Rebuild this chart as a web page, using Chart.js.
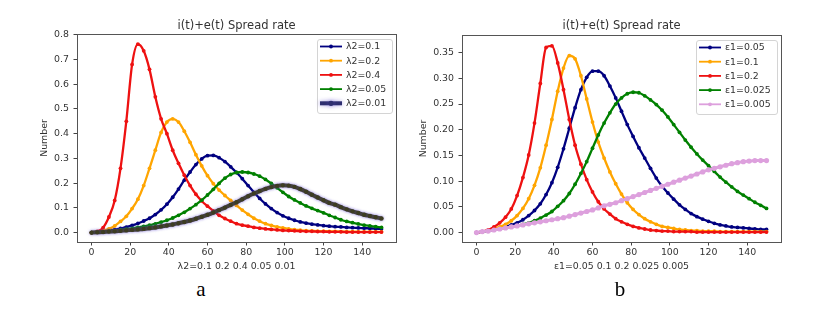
<!DOCTYPE html>
<html>
<head>
<meta charset="utf-8">
<title>i(t)+e(t) Spread rate</title>
<script src="https://cdn.jsdelivr.net/npm/chart.js@4.4.1/dist/chart.umd.min.js"></script>
<style>
  body { margin: 0; background: #fff; }
  #page { position: relative; width: 838px; height: 312px; overflow: hidden; font-family: "DejaVu Sans", sans-serif; color: #333; }
  canvas { position: absolute; top: 0; }
  #chart-a { left: 0; }
  #chart-b { left: 400px; }
  .plot-title { position: absolute; top: 18px; width: 319px; text-align: center; font-size: 11.5px; line-height: 14px; }
  .caption { position: absolute; top: 279px; width: 40px; text-align: center; font: 21px/21px "Liberation Serif", serif; color: #000; }
</style>
</head>
<body>
<div id="page">
  <canvas id="chart-a" width="419" height="276"></canvas>
  <canvas id="chart-b" width="400" height="276"></canvas>
  <div class="plot-title" style="left:77px">i(t)+e(t) Spread rate</div>
  <div class="plot-title" style="left:462px">i(t)+e(t) Spread rate</div>
  <div class="caption" style="left:181px">a</div>
  <div class="caption" style="left:600px">b</div>
</div>
<script>
// time steps (read every 3 units)
const tValues = [0, 3, 6, 9, 12, 15, 18, 21, 24, 27, 30, 33, 36, 39, 42, 45, 48, 51, 54, 57, 60, 63, 66, 69, 72, 75, 78, 81, 84, 87, 90, 93, 96, 99, 102, 105, 108, 111, 114, 117, 120, 123, 126, 129, 132, 135, 138, 141, 144, 147, 150];

const xTicks = [0, 20, 40, 60, 80, 100, 120, 140];
const yTicksA = [0, 0.1, 0.2, 0.3, 0.4, 0.5, 0.6, 0.7, 0.8];
const yTicksB = [0, 0.05, 0.1, 0.15, 0.2, 0.25, 0.3, 0.35];

// chart a : lambda2
const labelsA = ["λ2=0.1", "λ2=0.2", "λ2=0.4", "λ2=0.05", "λ2=0.01"];
const lam01 = [0.0, 0.002, 0.005, 0.008, 0.012, 0.017, 0.022, 0.029, 0.037, 0.047, 0.058, 0.073, 0.092, 0.115, 0.143, 0.176, 0.212, 0.245, 0.275, 0.298, 0.311, 0.312, 0.303, 0.287, 0.266, 0.243, 0.218, 0.19, 0.163, 0.138, 0.116, 0.097, 0.081, 0.068, 0.058, 0.05, 0.043, 0.038, 0.034, 0.031, 0.028, 0.026, 0.024, 0.023, 0.021, 0.02, 0.019, 0.018, 0.017, 0.016, 0.015];
const lam02 = [0.0, 0.003, 0.008, 0.015, 0.027, 0.045, 0.066, 0.097, 0.135, 0.19, 0.26, 0.333, 0.405, 0.447, 0.46, 0.447, 0.41, 0.365, 0.315, 0.27, 0.23, 0.198, 0.172, 0.15, 0.13, 0.11, 0.091, 0.074, 0.058, 0.046, 0.036, 0.029, 0.023, 0.019, 0.015, 0.012, 0.01, 0.008, 0.007, 0.006, 0.006, 0.005, 0.005, 0.004, 0.004, 0.004, 0.003, 0.003, 0.003, 0.003, 0.003];
const lam04 = [0.0, 0.005, 0.02, 0.063, 0.13, 0.26, 0.45, 0.68, 0.762, 0.735, 0.66, 0.549, 0.46, 0.4, 0.333, 0.28, 0.232, 0.19, 0.155, 0.128, 0.107, 0.088, 0.07, 0.057, 0.046, 0.036, 0.03, 0.026, 0.021, 0.018, 0.015, 0.013, 0.011, 0.009, 0.008, 0.007, 0.006, 0.005, 0.005, 0.004, 0.004, 0.003, 0.003, 0.003, 0.002, 0.002, 0.002, 0.002, 0.002, 0.002, 0.002];
const lam005 = [0.0, 0.002, 0.004, 0.006, 0.008, 0.011, 0.014, 0.017, 0.021, 0.025, 0.03, 0.035, 0.042, 0.05, 0.059, 0.07, 0.082, 0.097, 0.113, 0.131, 0.152, 0.175, 0.199, 0.22, 0.235, 0.243, 0.245, 0.243, 0.237, 0.228, 0.215, 0.199, 0.181, 0.163, 0.146, 0.132, 0.12, 0.108, 0.098, 0.089, 0.08, 0.07, 0.061, 0.052, 0.045, 0.04, 0.035, 0.03, 0.027, 0.024, 0.021];
const lam001 = [0.0, 0.001, 0.002, 0.004, 0.005, 0.007, 0.009, 0.011, 0.013, 0.015, 0.018, 0.021, 0.025, 0.029, 0.033, 0.038, 0.043, 0.049, 0.056, 0.064, 0.072, 0.081, 0.091, 0.101, 0.112, 0.123, 0.135, 0.147, 0.158, 0.168, 0.177, 0.184, 0.189, 0.191, 0.19, 0.185, 0.176, 0.165, 0.153, 0.142, 0.131, 0.12, 0.113, 0.103, 0.094, 0.086, 0.079, 0.072, 0.067, 0.062, 0.057];

// chart b : epsilon1
const labelsB = ["ε1=0.05", "ε1=0.1", "ε1=0.2", "ε1=0.025", "ε1=0.005"];
const eps005 = [0.0, 0.002, 0.004, 0.006, 0.008, 0.011, 0.015, 0.019, 0.025, 0.033, 0.043, 0.056, 0.074, 0.097, 0.127, 0.163, 0.203, 0.243, 0.278, 0.302, 0.314, 0.314, 0.305, 0.285, 0.262, 0.236, 0.21, 0.187, 0.165, 0.145, 0.125, 0.106, 0.09, 0.077, 0.065, 0.054, 0.045, 0.037, 0.031, 0.026, 0.022, 0.018, 0.015, 0.013, 0.011, 0.01, 0.009, 0.008, 0.007, 0.006, 0.006];
const eps01 = [0.0, 0.002, 0.004, 0.007, 0.011, 0.016, 0.023, 0.033, 0.047, 0.066, 0.092, 0.126, 0.17, 0.22, 0.275, 0.32, 0.344, 0.338, 0.305, 0.26, 0.215, 0.176, 0.145, 0.118, 0.095, 0.075, 0.058, 0.045, 0.035, 0.027, 0.021, 0.016, 0.012, 0.01, 0.008, 0.006, 0.005, 0.004, 0.004, 0.003, 0.003, 0.003, 0.002, 0.002, 0.002, 0.002, 0.002, 0.002, 0.002, 0.002, 0.002];
const eps02 = [0.0, 0.002, 0.005, 0.011, 0.019, 0.03, 0.046, 0.072, 0.107, 0.151, 0.213, 0.29, 0.36, 0.363, 0.33, 0.278, 0.22, 0.17, 0.133, 0.103, 0.079, 0.06, 0.046, 0.036, 0.027, 0.021, 0.016, 0.012, 0.009, 0.007, 0.005, 0.004, 0.003, 0.003, 0.002, 0.002, 0.002, 0.002, 0.001, 0.001, 0.001, 0.001, 0.001, 0.001, 0.001, 0.001, 0.001, 0.001, 0.001, 0.001, 0.001];
const eps0025 = [0.0, 0.002, 0.003, 0.005, 0.007, 0.009, 0.011, 0.013, 0.016, 0.019, 0.023, 0.028, 0.034, 0.041, 0.051, 0.062, 0.076, 0.094, 0.115, 0.138, 0.164, 0.19, 0.213, 0.233, 0.25, 0.262, 0.27, 0.273, 0.272, 0.266, 0.258, 0.249, 0.238, 0.225, 0.21, 0.195, 0.18, 0.166, 0.153, 0.141, 0.13, 0.119, 0.108, 0.098, 0.089, 0.08, 0.073, 0.066, 0.059, 0.053, 0.047];
const eps0005 = [0.0, 0.002, 0.003, 0.005, 0.007, 0.009, 0.011, 0.013, 0.015, 0.017, 0.019, 0.021, 0.023, 0.025, 0.027, 0.029, 0.032, 0.035, 0.038, 0.041, 0.044, 0.048, 0.052, 0.055, 0.058, 0.062, 0.066, 0.07, 0.074, 0.078, 0.082, 0.086, 0.09, 0.094, 0.098, 0.102, 0.106, 0.11, 0.114, 0.118, 0.122, 0.125, 0.128, 0.131, 0.134, 0.136, 0.138, 0.139, 0.14, 0.14, 0.14];

const FONT = '"DejaVu Sans", sans-serif';
Chart.defaults.font.family = FONT;
Chart.defaults.font.size = 9.4;
Chart.defaults.color = "#333";

// build one line dataset ('.'-marker style)
function series(label, values, color, index, extra) {
  return Object.assign({
    label: label,
    data: values,
    borderColor: color,
    backgroundColor: color,
    pointBackgroundColor: color,
    pointBorderWidth: 0,
    pointRadius: 1.9,
    borderWidth: 2.3,
    cubicInterpolationMode: "monotone",
    order: 10 - index, // later series on top, like matplotlib
  }, extra || {});
}

// box around the plot area
const framePlugin = {
  id: "frame",
  afterDatasetsDraw(chart) {
    const { ctx, chartArea: a } = chart;
    ctx.save();
    ctx.strokeStyle = "#555";
    ctx.lineWidth = 1;
    ctx.strokeRect(Math.floor(a.left) + 0.5, Math.floor(a.top) + 0.5, Math.round(a.right - a.left), Math.round(a.bottom - a.top));
    ctx.restore();
  },
};

// blurry halo for the lambda2=0.01 curve
const haloPlugin = {
  id: "halo",
  beforeDatasetDraw(chart, args) {
    const halo = chart.data.datasets[args.index].halo;
    if (!halo) return;
    chart.ctx.save();
    chart.ctx.shadowColor = halo;
    chart.ctx.shadowBlur = 3;
  },
  afterDatasetDraw(chart, args) {
    if (chart.data.datasets[args.index].halo) chart.ctx.restore();
  },
};

// legend inside the plot, upper right
const boxLegendPlugin = {
  id: "boxLegend",
  afterDraw(chart) {
    const { ctx, chartArea: area } = chart;
    const sets = chart.data.datasets;
    const rowH = 14.2;
    ctx.save();
    ctx.font = "9.4px " + FONT;
    const textW = Math.max(...sets.map((d) => ctx.measureText(d.label).width));
    const w = Math.round(29 + textW + 6);
    const h = Math.round(sets.length * rowH + 3);
    const x = Math.round(area.right - 4 - w);
    const y = Math.round(area.top + 5);

    ctx.beginPath();
    ctx.roundRect(x + 0.5, y + 0.5, w, h, 2.5);
    ctx.fillStyle = "rgba(255,255,255,0.85)";
    ctx.fill();
    ctx.strokeStyle = "#d4d4d4";
    ctx.lineWidth = 1;
    ctx.stroke();

    sets.forEach((d, i) => {
      const cy = y + 7.5 + i * rowH;
      const color = d.legendColor || d.borderColor;
      ctx.save();
      if (d.halo) {
        ctx.shadowColor = d.halo;
        ctx.shadowBlur = 4;
      }
      ctx.strokeStyle = color;
      ctx.lineWidth = d.halo ? 4 : 1.8;
      ctx.beginPath();
      ctx.moveTo(x + 3, cy);
      ctx.lineTo(x + 25, cy);
      ctx.stroke();
      ctx.fillStyle = color;
      ctx.beginPath();
      ctx.arc(x + 14, cy, d.halo ? 2.6 : 1.9, 0, Math.PI * 2);
      ctx.fill();
      ctx.restore();

      ctx.fillStyle = "#333";
      ctx.textBaseline = "middle";
      ctx.fillText(d.label, x + 29, cy + 0.5);
    });
    ctx.restore();
  },
};

function drawChart(canvasId, opts) {
  const grid = { drawOnChartArea: false, drawTicks: true, tickLength: 3.5, tickColor: "#444", tickWidth: 1 };
  const border = { display: true, color: "#555", width: 1 };
  return new Chart(document.getElementById(canvasId), {
    type: "line",
    data: { labels: tValues, datasets: opts.datasets },
    options: {
      responsive: false,
      animation: false,
      devicePixelRatio: 1,
      layout: { padding: opts.padding },
      plugins: { legend: { display: false }, tooltip: { enabled: false } },
      scales: {
        x: {
          type: "linear",
          min: -7.5,
          max: 157.5,
          afterBuildTicks: (axis) => { axis.ticks = xTicks.map((v) => ({ value: v })); },
          afterFit: (axis) => { axis.height = 34; },
          grid: grid,
          border: border,
          ticks: { padding: 1, color: "#333" },
          title: { display: true, text: opts.xTitle, color: "#333", padding: { top: 4, bottom: 4 } },
        },
        y: {
          min: opts.yMin,
          max: opts.yMax,
          afterBuildTicks: (axis) => { axis.ticks = opts.yTicks.map((v) => ({ value: v })); },
          afterFit: (axis) => { axis.width = opts.yWidth; },
          grid: grid,
          border: border,
          ticks: { padding: 4.5, color: "#333", callback: (v) => Number(v).toFixed(opts.decimals) },
          title: { display: true, text: "Number", color: "#333", padding: { top: 4, bottom: 4 } },
        },
      },
    },
    plugins: [framePlugin, haloPlugin, boxLegendPlugin],
  });
}

// Chart a
drawChart("chart-a", {
  padding: { left: 35, right: 23, top: 34, bottom: 0 },
  yWidth: 42,
  yMin: -0.038,
  yMax: 0.803,
  yTicks: yTicksA,
  decimals: 1,
  xTitle: "λ2=0.1 0.2 0.4 0.05 0.01",
  datasets: [
    series(labelsA[0], lam01, "#000080", 0),
    series(labelsA[1], lam02, "#ffa500", 1),
    series(labelsA[2], lam04, "#ee1111", 2),
    series(labelsA[3], lam005, "#008000", 3),
    series(labelsA[4], lam001, "#3d3d22", 4, {
      borderWidth: 4,
      pointRadius: 2.2,
      halo: "rgba(100,80,210,0.55)",
      legendColor: "#2e2e70",
    }),
  ],
});

// Chart b
drawChart("chart-b", {
  padding: { left: 14.3, right: 19, top: 35, bottom: 0 },
  yWidth: 47.7,
  yMin: -0.0183,
  yMax: 0.3843,
  yTicks: yTicksB,
  decimals: 2,
  xTitle: "ε1=0.05 0.1 0.2 0.025 0.005",
  datasets: [
    series(labelsB[0], eps005, "#000080", 0),
    series(labelsB[1], eps01, "#ffa500", 1),
    series(labelsB[2], eps02, "#ee1111", 2),
    series(labelsB[3], eps0025, "#008000", 3),
    series(labelsB[4], eps0005, "#dda0dd", 4, { borderWidth: 3, pointRadius: 2.6 }),
  ],
});
</script>
</body>
</html>
